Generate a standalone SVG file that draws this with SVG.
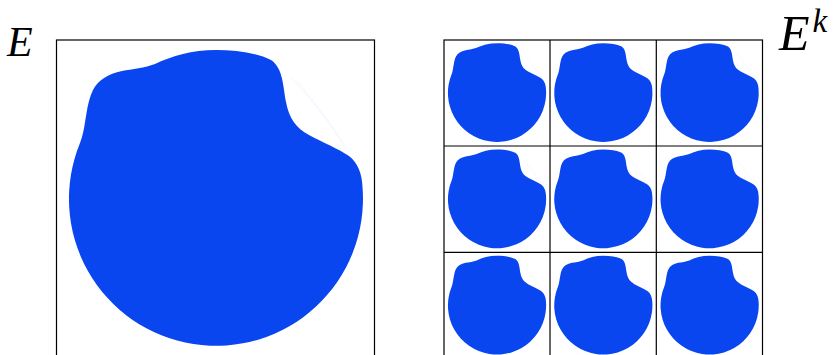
<svg xmlns="http://www.w3.org/2000/svg" xmlns:xlink="http://www.w3.org/1999/xlink" width="833" height="355" viewBox="0 0 833 355">
<style>
.frame{fill:none;stroke:#000;stroke-width:1.2}
.blob{fill:#0a46f0}
.ghost{fill:none;stroke:#c9d6fb;stroke-width:0.7;opacity:0.3}
.lbl{font-family:"Liberation Serif","DejaVu Serif",serif;font-style:italic;fill:#000}
</style>
<defs>
<g id="shape">
<path class="blob" d="M 80 143 A 147 147 0 1 0 362.5 187 C 362 174 358 163 349 156 C 339 149 322 142 309 135 C 296 128 289 118 286 102 C 283 86 283 68 271 60 C 257 53 236 50 216 50 C 192 50 172 56 155 64 C 145 68 132 69 122 71 C 108 74 98 80 93 90 C 86 104 86 124 82 137 Z"/>
<path class="ghost" d="M 292 78 C 307 95 325 115 345 148 M 298 82 C 314 102 330 122 350 152"/>
</g>
</defs>
<g id="E">
<rect class="frame" x="56.5" y="40" width="318" height="330"/>
<use xlink:href="#shape"/>
<text class="lbl" x="7" y="55.5" font-size="42">E</text>
</g>
<g id="Ek">
<g transform="translate(443.7,39.7) scale(0.334) translate(-56.3,-39.7)"><use xlink:href="#shape"/></g>
<g transform="translate(550,39.7) scale(0.334) translate(-56.3,-39.7)"><use xlink:href="#shape"/></g>
<g transform="translate(656.3,39.7) scale(0.334) translate(-56.3,-39.7)"><use xlink:href="#shape"/></g>
<g transform="translate(443.7,146) scale(0.334) translate(-56.3,-39.7)"><use xlink:href="#shape"/></g>
<g transform="translate(550,146) scale(0.334) translate(-56.3,-39.7)"><use xlink:href="#shape"/></g>
<g transform="translate(656.3,146) scale(0.334) translate(-56.3,-39.7)"><use xlink:href="#shape"/></g>
<g transform="translate(443.7,252.3) scale(0.334) translate(-56.3,-39.7)"><use xlink:href="#shape"/></g>
<g transform="translate(550,252.3) scale(0.334) translate(-56.3,-39.7)"><use xlink:href="#shape"/></g>
<g transform="translate(656.3,252.3) scale(0.334) translate(-56.3,-39.7)"><use xlink:href="#shape"/></g>
<g class="frame">
<rect x="444" y="40" width="318.5" height="330"/>
<line x1="550" y1="40" x2="550" y2="355"/>
<line x1="656.3" y1="40" x2="656.3" y2="355"/>
<line x1="444" y1="146" x2="762.5" y2="146"/>
<line x1="444" y1="252.3" x2="762.5" y2="252.3"/>
</g>
<text class="lbl" x="779" y="50" font-size="50">E<tspan font-size="33" dx="3" dy="-18">k</tspan></text>
</g>
</svg>
